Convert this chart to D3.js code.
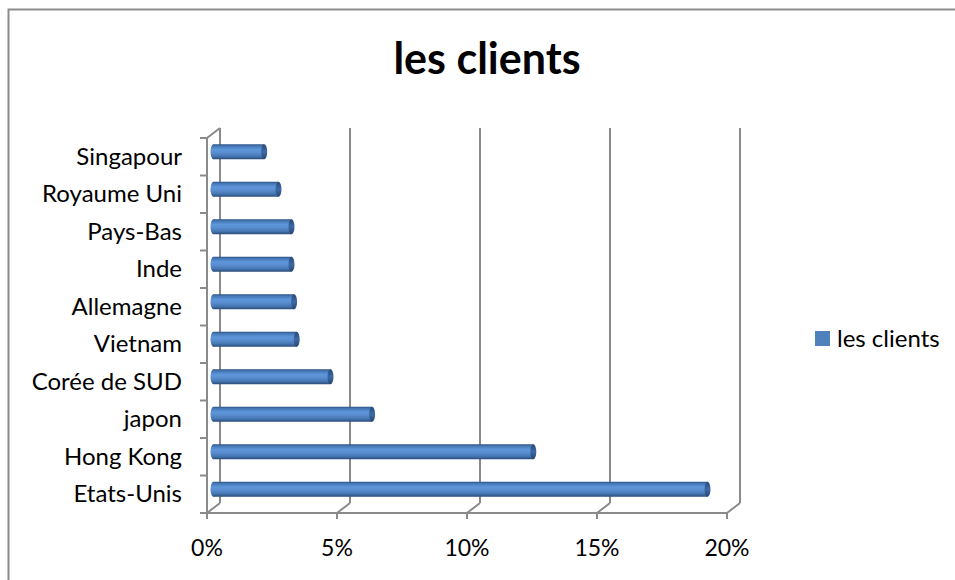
<!DOCTYPE html>
<html><head><meta charset="utf-8">
<script src="https://cdn.jsdelivr.net/npm/d3@7"></script>
<style>body{margin:0;background:#fff}svg{display:block}text{font-family:Lato,"Open Sans",sans-serif;fill:#000}</style>
</head><body>
<svg id="c" width="955" height="580"></svg>
<script>
const categories = ["Etats-Unis","Hong Kong","japon","Corée de SUD","Vietnam","Allemagne","Inde","Pays-Bas","Royaume Uni","Singapour"];
const values = [19.0, 12.3, 6.1, 4.5, 3.2, 3.1, 3.0, 3.0, 2.5, 1.95];
const xTicks = [0,5,10,15,20];
const seriesName = "les clients";
const title = "les clients";

const svg = d3.select("#c");
const DX = 13, DY = -10;
const front = {x0:207, x1:727, y0:513, y1:138};
const xF = d3.scaleLinear().domain([0,20]).range([front.x0, front.x1]);
const xB = d3.scaleLinear().domain([0,20]).range([front.x0+DX, front.x1+DX]);
const xM = d3.scaleLinear().domain([0,20]).range([front.x0+DX/2, front.x1+DX/2]);
const yF = d3.scaleBand().domain(categories).range([front.y0, front.y1]);
const yM = d3.scaleBand().domain(categories).range([front.y0+DY/2, front.y1+DY/2]);

// frame
svg.append("rect").attr("x",8.5).attr("y",9.5).attr("width",960).attr("height",600)
  .attr("fill","none").attr("stroke","#8c8c8c").attr("stroke-width",2);

// title
svg.append("text").attr("x",487).attr("y",74).attr("text-anchor","middle")
  .attr("font-size",43).attr("font-weight","bold").text(title);

const grid = "#8a8a8a";
xTicks.forEach(t=>{
  svg.append("line").attr("x1",xB(t)).attr("x2",xB(t)).attr("y1",front.y1+DY).attr("y2",front.y0+DY)
    .attr("stroke",grid).attr("stroke-width",2);
  svg.append("line").attr("x1",xB(t)).attr("y1",front.y0+DY).attr("x2",xF(t)).attr("y2",front.y0)
    .attr("stroke",grid).attr("stroke-width",2);
  svg.append("line").attr("x1",xF(t)).attr("x2",xF(t)).attr("y1",front.y0).attr("y2",front.y0+6)
    .attr("stroke",grid).attr("stroke-width",2);
});
svg.append("line").attr("x1",xF(0)-6).attr("x2",xF(20)).attr("y1",front.y0).attr("y2",front.y0)
  .attr("stroke",grid).attr("stroke-width",2);
svg.append("line").attr("x1",xF(0)).attr("x2",xF(0)).attr("y1",front.y1).attr("y2",front.y0+6)
  .attr("stroke",grid).attr("stroke-width",2);
svg.append("line").attr("x1",xF(0)).attr("y1",front.y1).attr("x2",xB(0)).attr("y2",front.y1+DY)
  .attr("stroke",grid).attr("stroke-width",2);
const bounds = categories.map(c=>yF(c)).concat([front.y0]);
bounds.forEach(y=>{
  svg.append("line").attr("x1",xF(0)-7).attr("x2",xF(0)).attr("y1",y).attr("y2",y)
    .attr("stroke",grid).attr("stroke-width",2);
});

const defs = svg.append("defs");
const g = defs.append("linearGradient").attr("id","cyl").attr("x1",0).attr("y1",0).attr("x2",0).attr("y2",1);
[[0,"#2d5384"],[0.12,"#4577b5"],[0.35,"#5e96da"],[0.55,"#5a8ed0"],[0.8,"#4677b3"],[1,"#2a4c78"]]
  .forEach(([o,c])=>g.append("stop").attr("offset",o).attr("stop-color",c));
const gc = defs.append("linearGradient").attr("id","cap").attr("x1",0).attr("y1",0).attr("x2",0).attr("y2",1);
[[0,"#29497a"],[0.5,"#3d6aa5"],[1,"#284670"]].forEach(([o,c])=>gc.append("stop").attr("offset",o).attr("stop-color",c));

const bh = 15, rx = 3;
const bars = svg.append("g").selectAll("g").data(categories).join("g");
bars.each(function(c,i){
  const gg = d3.select(this);
  const cy = yM(c) + yM.bandwidth()/2;
  const x0 = xM(0), x1 = xM(values[i]);
  gg.append("ellipse").attr("cx",x0).attr("cy",cy).attr("rx",rx).attr("ry",bh/2).attr("fill","url(#cyl)");
  gg.append("rect").attr("x",x0).attr("y",cy-bh/2).attr("width",x1-x0).attr("height",bh).attr("fill","url(#cyl)");
  gg.append("ellipse").attr("cx",x1).attr("cy",cy).attr("rx",rx).attr("ry",bh/2).attr("fill","url(#cap)");
});

svg.append("g").selectAll("text").data(categories).join("text")
  .attr("x",182).attr("y",c=>yF(c)+yF.bandwidth()/2+8).attr("text-anchor","end")
  .attr("font-size",24).text(c=>c);
svg.append("g").selectAll("text").data(xTicks).join("text")
  .attr("x",t=>xF(t)).attr("y",556).attr("text-anchor","middle")
  .attr("font-size",23).text(t=>t+"%");

svg.append("rect").attr("x",815).attr("y",331).attr("width",15).attr("height",15).attr("fill","#4f81bd");
svg.append("text").attr("x",837).attr("y",347).attr("font-size",24).text(seriesName);
</script>
</body></html>
